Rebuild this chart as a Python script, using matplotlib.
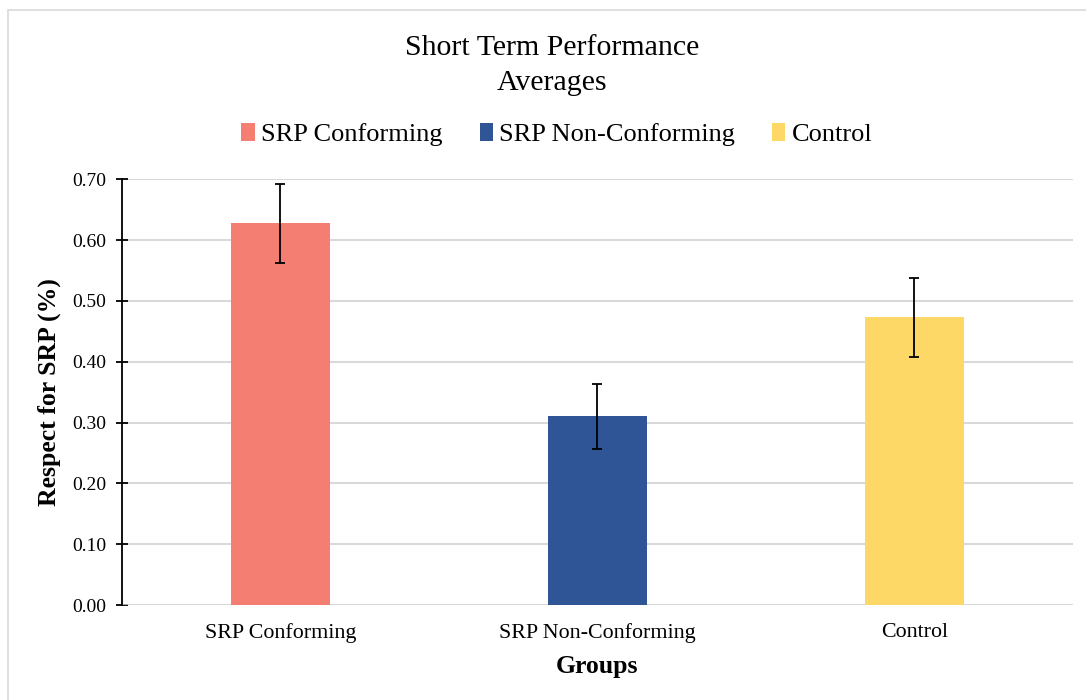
import numpy as np
import matplotlib.pyplot as plt
from matplotlib.patches import Patch, Rectangle

plt.rcParams['font.family'] = ['Liberation Serif', 'DejaVu Serif']

groups = ["SRP Conforming", "SRP Non-Conforming", "Control"]
averages = [0.628, 0.310, 0.473]
errors = [0.065, 0.054, 0.065]
colors = ["#F47E72", "#2F5597", "#FED866"]
y_ticks = [0.0, 0.1, 0.2, 0.3, 0.4, 0.5, 0.6, 0.7]

fig = plt.figure(figsize=(10.86, 7.0), dpi=100)
ax = fig.add_axes([0.1123, 0.1357, 0.8757, 0.6082])

# chart frame like the spreadsheet export
fig.patches.append(Rectangle((8 / 1086, -0.01), 1.0, 1 - 10 / 700 + 0.01,
                             transform=fig.transFigure, fill=False,
                             edgecolor="#D9D9D9", linewidth=1.2))

x = np.arange(len(groups))
ax.bar(x, averages, width=0.312, color=colors, zorder=3)
ax.errorbar(x, averages, yerr=errors, fmt="none", ecolor="black",
            elinewidth=1.3, capsize=3.3, capthick=1.3, zorder=4)

ax.set_xlim(-0.5, len(groups) - 0.5)
ax.set_ylim(0, 0.7)
ax.set_yticks(y_ticks)
ax.set_yticklabels([f"{v:.2f}" for v in y_ticks], fontsize=14)
ax.set_xticks(x)
ax.set_xticklabels(groups, fontsize=15.8)

ax.grid(axis="y", color="#D9D9D9", linewidth=1.5, zorder=0)
for side in ["top", "right", "bottom"]:
    ax.spines[side].set_visible(False)
ax.spines["left"].set_linewidth(1.3)
ax.spines["left"].set_zorder(5)
ax.axhline(0, color="#D9D9D9", linewidth=1.8, zorder=2)
ax.tick_params(axis="y", direction="inout", length=8.6, width=1.3, pad=7)
ax.tick_params(axis="x", length=0, pad=13)

ax.set_ylabel("Respect for SRP (%)", fontsize=18.5, fontweight="bold", labelpad=8)
ax.set_xlabel("Groups", fontsize=18.5, fontweight="bold", labelpad=9)

fig.text(0.508, 0.906, "Short Term Performance\nAverages", ha="center", va="center",
         fontsize=21.5, linespacing=1.45)

handles = [Patch(facecolor=c) for c in colors]
fig.legend(handles, groups, loc="center", bbox_to_anchor=(0.513, 0.808), ncol=3,
           frameon=False, fontsize=19, handlelength=0.5, handleheight=0.7,
           handletextpad=0.25, columnspacing=1.4)

fig.savefig("out.png", dpi=100)
